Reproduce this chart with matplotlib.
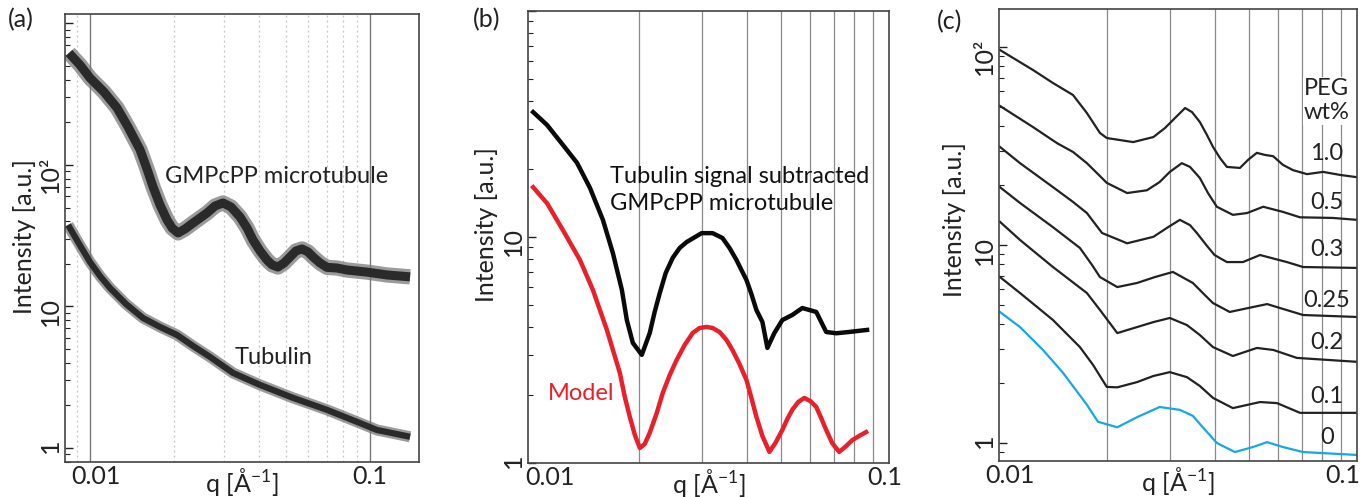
import matplotlib
matplotlib.use('Agg')
import matplotlib.pyplot as plt
import matplotlib.transforms as mtrans
from matplotlib.ticker import FixedLocator, FixedFormatter, LogLocator, NullFormatter

plt.rcParams['font.family'] = ['Lato', 'DejaVu Sans']
plt.rcParams['mathtext.fontset'] = 'custom'
plt.rcParams['mathtext.rm'] = 'Lato'
plt.rcParams['mathtext.it'] = 'Lato:italic'
plt.rcParams['mathtext.default'] = 'regular'

# ---------------- data: panel (a) ----------------
q_mt = [0.00841, 0.00921, 0.0100, 0.01122, 0.01249, 0.01367, 0.01509, 0.01598, 0.01679,
        0.01778, 0.01884, 0.01963, 0.02062, 0.02184, 0.02333, 0.02617, 0.02795, 0.02985,
        0.03188, 0.03434, 0.03637, 0.03821, 0.04047, 0.04287, 0.04467, 0.0469, 0.04931,
        0.0518, 0.05441, 0.05717, 0.06005, 0.06258, 0.06629, 0.0702, 0.07621, 0.0828,
        0.0975, 0.1150, 0.1390]
I_mt = [619, 509, 412, 328, 253, 185.6, 128, 93.7, 70, 52.2, 40.9, 35.9, 33.1, 35.3, 38.9,
        45.8, 51.3, 53.9, 50.5, 42.9, 35.9, 29.5, 24.7, 21.3, 19.7, 19.0, 20.3, 22.4, 24.7,
        25.5, 24.3, 22.4, 20.3, 18.9, 18.7, 18.1, 17.5, 16.7, 16.2]
q_tub = [0.00835, 0.00914, 0.0100, 0.01086, 0.01179, 0.01345, 0.01546, 0.01778, 0.02045,
         0.02333, 0.02683, 0.03242, 0.04047, 0.05309, 0.0702, 0.0921, 0.1059, 0.1390]
I_tub = [37.7, 27.7, 20.6, 16.4, 13.5, 10.4, 8.29, 7.17, 6.29, 5.26, 4.40, 3.39, 2.79, 2.26,
         1.86, 1.50, 1.34, 1.20]

# ---------------- data: panel (b) ----------------
q_sub = [0.01013, 0.01108, 0.01228, 0.01343, 0.01460, 0.01587, 0.01692, 0.01793, 0.01851,
         0.01924, 0.02038, 0.02145, 0.02214, 0.02288, 0.02377, 0.02486, 0.02600, 0.02720,
         0.02995, 0.03214, 0.03425, 0.03584, 0.03748, 0.03870, 0.03997, 0.04126, 0.04261,
         0.04428, 0.04573, 0.04783, 0.05034, 0.05368, 0.05725, 0.06262, 0.06676, 0.07118,
         0.07737, 0.08684]
I_sub = [35.7, 31.3, 25.5, 21.3, 16.5, 11.9, 8.49, 5.83, 4.29, 3.40, 3.01, 3.76, 4.66, 5.65,
         6.93, 8.08, 8.94, 9.50, 10.4, 10.4, 9.90, 8.94, 7.91, 7.14, 6.45, 5.59, 4.75, 4.21,
         3.23, 3.76, 4.29, 4.52, 4.85, 4.66, 3.80, 3.75, 3.80, 3.88]
q_model = [0.01013, 0.01108, 0.01228, 0.01369, 0.01488, 0.01628, 0.01770, 0.01827, 0.01887,
           0.01949, 0.02012, 0.02077, 0.02145, 0.02244, 0.02332, 0.02439, 0.02551, 0.02685,
           0.02827, 0.02957, 0.03092, 0.03214, 0.03361, 0.03516, 0.03653, 0.03821, 0.03997,
           0.04126, 0.04261, 0.04428, 0.04632, 0.04814, 0.05034, 0.05199, 0.05368, 0.05578,
           0.05798, 0.06025, 0.06262, 0.06464, 0.06676, 0.06937, 0.07255, 0.07542, 0.07886,
           0.08249, 0.08629]
I_model = [16.6, 14.1, 10.7, 7.91, 5.83, 3.88, 2.50, 1.959, 1.60, 1.330, 1.165, 1.214, 1.36,
           1.664, 2.04, 2.45, 2.86, 3.327, 3.76, 3.957, 4.00, 3.957, 3.80, 3.50, 3.16, 2.742,
           2.33, 1.94, 1.60, 1.317, 1.12, 1.226, 1.40, 1.566, 1.72, 1.862, 1.94, 1.88, 1.77,
           1.581, 1.40, 1.226, 1.12, 1.177, 1.26, 1.317, 1.37]

# ---------------- data: panel (c) ----------------
peg_labels = ['1.0', '0.5', '0.3', '0.25', '0.2', '0.1', '0']
q_c = {
    '1.0': [0.01006, 0.01245, 0.01415, 0.0161, 0.0176, 0.01914, 0.0200, 0.0237, 0.0270,
            0.02909, 0.03102, 0.0331, 0.03461, 0.0364, 0.03811, 0.0396, 0.04143, 0.0433,
            0.0471, 0.04961, 0.0525, 0.05534, 0.0583, 0.0621, 0.0662, 0.0725, 0.0804,
            0.0896, 0.1],
    '0.5': [0.01006, 0.01245, 0.01452, 0.0161, 0.0176, 0.01914, 0.0200, 0.0228, 0.0259,
            0.0281, 0.0300, 0.0324, 0.03416, 0.0364, 0.03835, 0.0406, 0.0450, 0.0493, 0.0547,
            0.0621, 0.0693, 0.0855, 0.1],
    '0.3': [0.01006, 0.01145, 0.01415, 0.0161, 0.0176, 0.0194, 0.0228, 0.0270, 0.02966,
            0.0320, 0.03416, 0.0357, 0.03811, 0.0400, 0.0433, 0.0480, 0.0536, 0.0637, 0.0707,
            0.1],
    '0.25': [0.01006, 0.01145, 0.01415, 0.01683, 0.01819, 0.01914, 0.0214, 0.0243, 0.02728,
             0.0306, 0.0348, 0.0371, 0.0396, 0.0441, 0.0512, 0.0561, 0.0637, 0.0707, 0.1],
    '0.2': [0.01006, 0.01145, 0.01415, 0.0176, 0.01914, 0.0214, 0.0243, 0.0270, 0.0300,
            0.0335, 0.0364, 0.0396, 0.0450, 0.0525, 0.0584, 0.0679, 0.1],
    '0.1': [0.01006, 0.01145, 0.01415, 0.01683, 0.01831, 0.0200, 0.0214, 0.0243, 0.0270,
            0.0300, 0.0335, 0.0364, 0.0396, 0.0450, 0.0536, 0.0598, 0.0693, 0.1],
    '0': [0.01006, 0.01145, 0.01327, 0.0151, 0.0176, 0.0189, 0.0214, 0.0243, 0.0281, 0.0320,
          0.0348, 0.0371, 0.0406, 0.0456, 0.0512, 0.0561, 0.0621, 0.0707, 0.1],
}
I_c = {
    '1.0': [96.6, 76.5, 65.8, 57.2, 46.4, 36.8, 34.7, 33.1, 35.1, 39.0, 43.8, 49.2, 46.9,
            41.8, 35.9, 31.3, 27.5, 24.8, 24.5, 26.9, 29.2, 28.5, 28.1, 25.4, 23.9, 22.8,
            23.4, 22.6, 22.0],
    '0.5': [50.4, 39.4, 32.7, 29.5, 25.9, 22.3, 20.6, 18.3, 18.9, 20.8, 23.4, 25.9, 24.8,
            21.8, 18.3, 15.6, 14.2, 14.5, 15.6, 14.7, 13.8, 13.7, 13.4],
    '0.3': [31.3, 25.9, 19.6, 16.5, 14.5, 11.5, 10.2, 11.0, 12.3, 13.4, 12.6, 11.5, 9.89, 8.9,
            8.2, 8.2, 8.9, 8.2, 7.74, 7.66],
    '0.25': [19.6, 16.3, 12.3, 9.66, 7.93, 6.89, 6.13, 6.43, 6.89, 7.31, 6.43, 5.72, 5.09,
             4.59, 4.86, 5.03, 4.69, 4.43, 4.33],
    '0.2': [13.1, 10.6, 7.74, 5.72, 4.70, 3.59, 3.85, 4.08, 4.28, 3.94, 3.51, 3.05, 2.75, 3.02,
            2.95, 2.69, 2.57],
    '0.1': [6.89, 5.72, 4.18, 3.05, 2.48, 1.92, 1.91, 2.03, 2.18, 2.28, 2.15, 1.94, 1.69, 1.50,
            1.61, 1.59, 1.42, 1.42],
    '0': [4.59, 3.85, 2.95, 2.26, 1.56, 1.28, 1.20, 1.35, 1.52, 1.47, 1.37, 1.20, 1.0, 0.90,
          0.954, 1.01, 0.954, 0.90, 0.87],
}
c_colors = {'0': '#16a8e3'}

W, H = 1364, 497
fig = plt.figure(figsize=(W / 100, H / 100), dpi=100)


def box(l, r, t, b):
    return [l / W, (H - b) / H, (r - l) / W, (b - t) / H]


def style_axes(ax, xlim, ylim, yticks, ylabels, xoffsets, ylab_pos, xlab_y):
    ax.set_xscale('log')
    ax.set_yscale('log')
    ax.set_xlim(*xlim)
    ax.set_ylim(*ylim)
    ax.xaxis.set_major_locator(FixedLocator([0.01, 0.1]))
    ax.xaxis.set_major_formatter(FixedFormatter(['0.01', '0.1']))
    ax.xaxis.set_minor_locator(LogLocator(base=10, subs=range(2, 10)))
    ax.xaxis.set_minor_formatter(NullFormatter())
    ax.yaxis.set_major_locator(FixedLocator(yticks))
    ax.yaxis.set_major_formatter(FixedFormatter(ylabels))
    ax.yaxis.set_minor_locator(LogLocator(base=10, subs=range(2, 10)))
    ax.yaxis.set_minor_formatter(NullFormatter())
    ax.tick_params(axis='x', which='both', length=0, labelsize=18, pad=2, colors='#222')
    ax.tick_params(axis='y', which='major', direction='in', length=6, width=1,
                   labelsize=18, pad=2, labelrotation=90, colors='#222')
    ax.tick_params(axis='y', which='minor', direction='in', length=3.5, width=0.8, colors='#222')
    for sp in ax.spines.values():
        sp.set_color('#444')
        sp.set_linewidth(1.2)
    ax.set_ylabel('Intensity [a.u.]', fontsize=18, color='#222')
    ax.yaxis.set_label_coords(*ylab_pos)
    ax.yaxis.label.set_verticalalignment('center')
    ax.set_xlabel('q [Å$^{-1}$]', fontsize=18, color='#222')
    ax.xaxis.set_label_coords(0.5, xlab_y)
    for tick, dx in zip(ax.xaxis.get_major_ticks(), xoffsets):
        tick.label1.set_transform(tick.label1.get_transform() +
                                  mtrans.ScaledTranslation(dx / 100, 0, fig.dpi_scale_trans))


# ---------------- panel (a) ----------------
axa = fig.add_axes(box(65, 419, 14, 462))
axa.grid(which='major', axis='x', color='#777777', lw=1.0, ls='-')
axa.grid(which='minor', axis='x', color='#c4c4c4', lw=0.9, ls=(0, (1.5, 2.5)))
axa.plot(q_mt, I_mt, color='#7a7a7a', lw=11, alpha=0.75, solid_capstyle='butt', solid_joinstyle='round')
axa.plot(q_mt, I_mt, color='#2a2a2a', lw=6.5, solid_capstyle='butt', solid_joinstyle='round')
axa.plot(q_tub, I_tub, color='#7a7a7a', lw=8, alpha=0.75, solid_capstyle='butt', solid_joinstyle='round')
axa.plot(q_tub, I_tub, color='#2a2a2a', lw=4.5, solid_capstyle='butt', solid_joinstyle='round')
style_axes(axa, (0.00814, 0.1496), (0.796, 1167), [1, 10, 100, 1000], ['1', '10', '10²', ''],
           [6, 0], (-0.113, 0.504), -0.008)
axa.text(0.599, 0.638, 'GMPcPP microtubule', transform=axa.transAxes, fontsize=17,
         ha='center', va='center', color='#222')
axa.text(0.590, 0.234, 'Tubulin', transform=axa.transAxes, fontsize=17,
         ha='center', va='center', color='#222')

# ---------------- panel (b) ----------------
axb = fig.add_axes(box(528, 889, 11, 463))
axb.grid(which='minor', axis='x', color='#8a8a8a', lw=0.9, ls='-')
axb.plot(q_sub, I_sub, color='#0a0a0a', lw=3.2, solid_joinstyle='round')
axb.plot(q_model, I_model, color='#e8202a', lw=3.2, solid_joinstyle='round')
style_axes(axb, (0.0098, 0.1), (1, 100), [1, 10, 100], ['1', '10', ''],
           [19, -4], (-0.114, 0.527), -0.008)
axb.text(0.227, 0.604, 'Tubulin signal subtracted\nGMPcPP microtubule', transform=axb.transAxes,
         fontsize=17, ha='left', va='center', linespacing=1.3, color='#111')
axb.text(0.147, 0.153, 'Model', transform=axb.transAxes, fontsize=17,
         ha='center', va='center', color='#e8202a')

# ---------------- panel (c) ----------------
axc = fig.add_axes(box(999, 1357, 9, 461))
axc.grid(which='minor', axis='x', color='#8a8a8a', lw=0.9, ls='-')
for lab in peg_labels:
    axc.plot(q_c[lab], I_c[lab], color=c_colors.get(lab, '#222222'), lw=1.6,
             solid_joinstyle='round')
style_axes(axc, (0.01, 0.1), (0.811, 155.6), [1, 10, 100], ['1', '10', '10²'],
           [11, -14], (-0.123, 0.535), -0.008)
axc.text(0.916, 0.797, 'PEG\nwt%', transform=axc.transAxes, fontsize=17, ha='center',
         va='center', linespacing=1.2, color='#222',
         bbox=dict(facecolor='white', edgecolor='none', pad=1))
label_y = [0.681, 0.573, 0.467, 0.356, 0.263, 0.142, 0.053]
for lab, yy in zip(peg_labels, label_y):
    axc.text(0.916, yy, lab, transform=axc.transAxes, fontsize=17, ha='center',
             va='center', color='#222')

# panel letters
fig.text(21 / W, 1 - 20 / H, '(a)', fontsize=18, ha='center', va='center', color='#222')
fig.text(487 / W, 1 - 20 / H, '(b)', fontsize=18, ha='center', va='center', color='#222')
fig.text(950 / W, 1 - 22 / H, '(c)', fontsize=18, ha='center', va='center', color='#222')

fig.savefig('out.png', dpi=100)
